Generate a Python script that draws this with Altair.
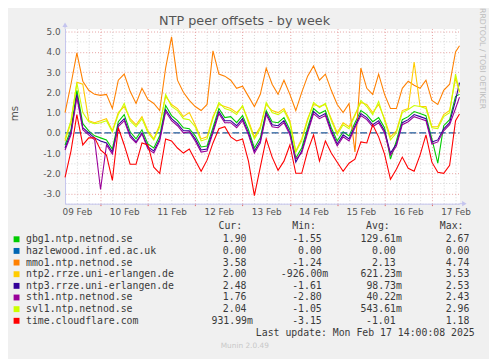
import json
import altair as alt
import pandas as pd

# ---------------- data ----------------
# hours after 09 Feb 06:00 (graph ends at last update, 17 Feb 14:00)
hours = list(range(0, 199, 3)) + [200]
day_labels = ["09 Feb", "10 Feb", "11 Feb", "12 Feb", "13 Feb", "14 Feb", "15 Feb", "16 Feb", "17 Feb"]
y_ticks = [-3.5, -3.0, -2.5, -2.0, -1.5, -1.0, -0.5, 0.0, 0.5, 1.0, 1.5, 2.0, 2.5, 3.0, 3.5, 4.0, 4.5, 5.0]
x_ticks = list(range(0, 199, 6))

series_names = ["gbg1.ntp.netnod.se", "hazlewood.inf.ed.ac.uk", "mmo1.ntp.netnod.se",
                "ntp2.rrze.uni-erlangen.de", "ntp3.rrze.uni-erlangen.de", "sth1.ntp.netnod.se",
                "svl1.ntp.netnod.se", "time.cloudflare.com"]
series_colors = ["#00CC00", "#0066B3", "#FF8000", "#FFCC00", "#330099", "#990099", "#CCFF00", "#FF0000"]

cur_vals = ["1.90", "0.00", "3.58", "2.00", "2.48", "1.76", "2.04", "931.99m"]
min_vals = ["-1.55", "0.00", "-1.24", "-926.00m", "-1.61", "-2.80", "-1.05", "-3.15"]
avg_vals = ["129.61m", "0.00", "2.13", "621.23m", "98.73m", "40.22m", "543.61m", "-1.01"]
max_vals = ["2.67", "0.00", "4.74", "3.53", "2.53", "2.43", "2.96", "1.18"]

gbg1 = [-0.6, 0.15, 2.1, 0.45, 0.1, -0.15, -0.25, -0.35, -0.8, 0.55,
        0.9, 0.05, -0.3, 0.15, -0.55, -0.75, -0.15, 1.35, 0.85, 0.6,
        0.25, 0.2, -0.15, -0.7, -0.65, 0.25, 1.2, 0.75, 0.8, 0.5,
        0.85, 0.15, -0.75, -0.25, 1.1, 0.55, 0.5, 0.75, 0.15, -1.25,
        -0.75, 0.25, 1.2, 0.95, 1.1, 0.25, -0.4, 0.05, -0.15, 0.5,
        1.1, 0.9, 0.55, 0.75, 0.25, -1.3, -0.4, 0.65, 0.8, 1.05,
        0.95, 0.85, -0.3, -1.5, 0.35, 0.65, 1.8, 1.9]
hazlewood = [0.0] * 68
mmo1 = [1.0, 2.4, 3.95, 2.55, 2.1, 1.9, 1.85, 1.9, 1.2, 2.6,
        2.9, 2.05, 1.45, 2.2, 1.65, 1.45, 1.1, 3.2, 4.74, 2.6,
        2.0, 1.6, 1.3, 1.1, 1.4, 4.05, 2.9, 2.8, 2.6, 2.2,
        2.3, 1.8, 1.3, 1.9, 3.2, 2.4, 1.9, 2.6, 1.9, 1.1,
        2.0, 2.8, 3.3, 2.6, 2.9, 2.1, 1.4, 1.0, 1.45, -0.95,
        3.2, 2.2, 1.9, 2.9, 1.9, 1.2, 1.2, 2.2, 2.55, 2.35,
        2.2, 2.6, 1.6, 1.4, 2.1, 2.4, 4.0, 4.3]
ntp2 = [-0.4, 0.5, 2.5, 2.4, 0.6, 0.5, 0.6, 0.7, 0.1, 1.0,
        1.3, 0.7, 0.4, 0.8, 0.1, -0.3, 0.4, 1.8, 1.4, 1.2,
        0.8, 1.0, 0.4, -0.3, -0.2, 0.8, 1.4, 1.3, 1.2, 1.0,
        1.3, 0.6, -0.2, 0.3, 1.4, 1.1, 1.0, 1.2, 0.6, -0.9,
        -0.3, 0.7, 1.4, 1.3, 1.4, 0.7, 0.0, 0.5, 0.3, 0.9,
        1.5, 1.4, 1.0, 1.4, 0.7, -0.2, 0.1, 1.1, 1.2, 3.5,
        1.3, 1.3, 0.3, 0.3, 0.9, 1.1, 2.7, 2.0]
ntp3 = [-0.75, 0.0, 1.9, 0.25, 0.0, -0.25, -0.4, -0.5, -0.95, 0.4,
        0.7, -0.1, -0.45, 0.0, -0.7, -0.9, -0.3, 1.15, 0.7, 0.45,
        0.1, 0.1, -0.3, -0.85, -0.8, 0.1, 1.05, 0.6, 0.6, 0.35,
        0.7, 0.0, -0.9, -0.4, 1.0, 0.4, 0.35, 0.6, 0.0, -1.45,
        -0.9, 0.1, 1.05, 0.8, 0.95, 0.1, -0.55, -0.1, -0.3, 0.35,
        0.95, 0.75, 0.4, 0.6, 0.1, -1.0, -0.55, 0.5, 0.65, 0.9,
        0.8, 0.7, -0.45, -0.35, 0.2, 0.5, 1.6, 2.48]
sth1 = [-0.85, -0.1, 1.75, 0.15, -0.1, -0.35, -2.8, -0.6, -1.05, 0.3,
        0.6, -0.2, -0.5, -0.05, -0.8, -1.0, -0.4, 1.05, 0.6, 0.35,
        0.0, 0.05, -0.4, -0.95, -0.9, 0.0, 0.95, 0.5, 0.5, 0.25,
        0.6, -0.1, -1.0, -0.5, 0.9, 0.3, 0.25, 0.5, -0.1, -1.3,
        -1.0, 0.0, 0.95, 0.7, 0.85, 0.0, -0.65, -0.2, -0.4, 0.25,
        0.85, 0.65, 0.3, 0.5, 0.0, -1.1, -0.65, 0.4, 0.55, 0.8,
        0.7, 0.6, -0.55, -0.45, 0.1, 0.4, 1.2, 1.76]
svl1 = [-0.3, 0.6, 2.45, 1.0, 0.55, 0.45, 0.5, 0.6, 0.05, 0.9,
        1.45, 0.6, 0.3, 0.7, 0.0, -0.35, 0.3, 1.9, 1.3, 1.1,
        0.7, 0.65, 0.3, -0.4, -0.3, 0.7, 1.5, 1.2, 1.1, 0.9,
        1.35, 0.5, -0.3, 0.2, 1.5, 1.0, 0.9, 1.1, 0.5, -0.95,
        -0.4, 0.6, 1.5, 1.25, 1.45, 0.6, -0.1, 0.4, 0.2, 0.85,
        1.6, 1.3, 0.9, 1.55, 0.6, -0.35, 0.0, 1.0, 1.15, 1.35,
        1.3, 1.2, 0.25, 0.2, 0.8, 1.0, 2.9, 2.04]
cloudflare = [-2.2, -0.9, 0.9, -0.6, -0.25, -0.25, -0.85, -1.1, -2.35, 0.25,
              -0.6, -1.55, -1.55, -0.5, -0.6, -1.7, -2.0, -0.3, -0.4, -0.75,
              -1.0, -0.8, -1.35, -1.9, -1.35, -0.5, 0.2, 0.3, -0.2, -0.4,
              -0.3, -1.4, -3.1, -1.7, -0.3, -1.2, -1.85, -1.4, -0.6, -2.0,
              -2.0, -0.9, -0.1, -1.4, -0.4, -1.0, -1.45, -1.9, -1.5, -1.3,
              -0.45, -0.5, 0.4, -0.2, -1.05, -2.3, -1.8, -1.2, -1.75, -1.9,
              -1.1, -0.1, -1.45, -1.95, -2.0, -1.6, 0.6, 0.93]

series_values = [gbg1, hazlewood, mmo1, ntp2, ntp3, sth1, svl1, cloudflare]

title_text = "NTP peer offsets - by week"
y_title = "ms"
side_text = "RRDTOOL / TOBI OETIKER"
last_update = "Last update: Mon Feb 17 14:00:08 2025"
munin_text = "Munin 2.0.49"
headers = ["Cur:", "Min:", "Avg:", "Max:"]

# ---------------- tables ----------------
rows = []
for name, vals in zip(series_names, series_values):
    for h, v in zip(hours, vals):
        rows.append({"series": name, "h": h, "v": v})
df = pd.DataFrame(rows)

leg_rows = pd.DataFrame({"row": list(range(len(series_names))), "name": series_names,
                         "color": series_colors})
leg_vals = []
for i in range(len(series_names)):
    for j, col in enumerate([cur_vals, min_vals, avg_vals, max_vals]):
        leg_vals.append({"row": i, "col": j, "s": col[i]})
leg_vals = pd.DataFrame(leg_vals)
hdr = pd.DataFrame({"col": list(range(4)), "s": headers})

# ---------------- styling ----------------
W, H = 401, 178
MAJOR = "#e6a0a0"
MINOR = "#d4d4d4"
AXIS = "#c4c4ee"
FONT = "DejaVu Sans"
MONO = "DejaVu Sans Mono"
TXT = "#555555"
LEG = "#3a3a3a"

xscale = alt.Scale(domain=[0, 200], nice=False, zero=False)
yscale = alt.Scale(domain=[-3.5, 5.15], nice=False, zero=False)

mid = "datum.value % 24 == 18"
x_axis = alt.Axis(
    values=x_ticks, title=None, grid=True, gridDash=[1, 2], gridWidth=1,
    gridColor=alt.condition(mid, alt.value(MAJOR), alt.value(MINOR)),
    tickColor=alt.condition(mid, alt.value("#e06666"), alt.value("transparent")),
    tickSize=2, domainColor=AXIS, domainWidth=1,
    labelExpr="datum.value % 24 == 6 ? " + json.dumps(day_labels) + "[floor(datum.value / 24)] : ''",
    labelFont=FONT, labelFontSize=9, labelColor=TXT, labelPadding=2,
    labelFlush=False, labelOverlap=False, labelBound=False)
y_axis = alt.Axis(
    values=y_ticks, title=None, grid=True, gridDash=[1, 2], gridWidth=1,
    gridColor=alt.condition("datum.value % 1 == 0", alt.value(MAJOR), alt.value(MINOR)),
    ticks=False, domainColor=AXIS, domainWidth=1,
    labelExpr="datum.value % 1 == 0 ? (datum.value < 0 ? '-' : '') + format(abs(datum.value), '.1f') : ''",
    labelFont=FONT, labelFontSize=9, labelColor=TXT, labelPadding=5,
    labelFlush=False, labelOverlap=False, labelBound=False)

layers = []
for name, color in zip(series_names, series_colors):
    kw = dict(color=color, strokeWidth=1.1, interpolate="linear")
    if name.startswith("hazlewood"):
        kw["strokeDash"] = [7, 3]
        kw["color"] = "#1d5a9a"
        kw["strokeWidth"] = 1.3
    layers.append(
        alt.Chart(df).transform_filter(alt.datum.series == name).mark_line(**kw).encode(
            x=alt.X("h:Q", scale=xscale, axis=x_axis),
            y=alt.Y("v:Q", scale=yscale, axis=y_axis)))

one = pd.DataFrame({"k": [0]})

# axis arrows
layers.append(alt.Chart(one).mark_rule(color=AXIS, strokeWidth=1).encode(
    x=alt.value(0), y=alt.value(0), y2=alt.value(-4)))
layers.append(alt.Chart(one).mark_rule(color=AXIS, strokeWidth=1).encode(
    x=alt.value(W), x2=alt.value(W + 5), y=alt.value(H)))
layers.append(alt.Chart(one).mark_point(shape="triangle-up", filled=True, color=AXIS, size=28, opacity=1).encode(
    x=alt.value(0), y=alt.value(-4)))
layers.append(alt.Chart(one).mark_point(shape="triangle-right", filled=True, color=AXIS, size=28, opacity=1).encode(
    x=alt.value(W + 5), y=alt.value(H)))

def label(text, x, y, **kw):
    return alt.Chart(pd.DataFrame({"t": [text]})).mark_text(**kw).encode(
        text="t:N", x=alt.value(x), y=alt.value(y))

layers.append(label(title_text, 182.5, -3.5, font=FONT, fontSize=13, color=TXT, align="center", baseline="alphabetic"))
layers.append(label(y_title, -50.5, 86.5, font=FONT, fontSize=10.5, color=TXT, align="center", baseline="middle", angle=270))
layers.append(label(side_text, 423.5, -21, font=FONT, fontSize=8, color="#bdbdbd", align="left", baseline="middle", angle=90))
layers.append(label(last_update, 416.5, 309.7, font=MONO, fontSize=10, color=LEG, align="right", baseline="middle"))
layers.append(label(munin_text, 182.7, 323, font=FONT, fontSize=7.5, color="#c8c8c8", align="center", baseline="middle"))

# legend: headers
layers.append(alt.Chart(hdr).transform_calculate(
    px="[156, 231, 306, 381][datum.col]").mark_text(
    font=MONO, fontSize=10, color=LEG, align="left", baseline="middle").encode(
    text="s:N", x=alt.X("px:Q", scale=None, axis=None), y=alt.value(201)))
# legend: swatches
layers.append(alt.Chart(leg_rows).transform_calculate(
    py="214.2 + 11.84 * datum.row").mark_square(size=36, opacity=1).encode(
    x=alt.value(-49.3), y=alt.Y("py:Q", scale=None, axis=None),
    color=alt.Color("color:N", scale=None, legend=None)))
# legend: names
layers.append(alt.Chart(leg_rows).transform_calculate(
    py="214.2 + 11.84 * datum.row").mark_text(
    font=MONO, fontSize=10, color=LEG, align="left", baseline="middle").encode(
    text="name:N", x=alt.value(-39.7), y=alt.Y("py:Q", scale=None, axis=None)))
# legend: values
layers.append(alt.Chart(leg_vals).transform_calculate(
    py="214.2 + 11.84 * datum.row",
    px="[184.5, 261, 336, 411][datum.col] + (indexof(datum.s, 'm') >= 0 ? 6.5 : 0)").mark_text(
    font=MONO, fontSize=10, color=LEG, align="right", baseline="middle").encode(
    text="s:N", x=alt.X("px:Q", scale=None, axis=None), y=alt.Y("py:Q", scale=None, axis=None)))

chart = alt.layer(*layers).properties(
    width=W, height=H,
    padding={"left": 58, "top": 18, "right": 30, "bottom": 155},
    autosize=alt.AutoSizeParams(type="none"),
    background="#F0F0F0",
).configure_view(fill="white", stroke="transparent")

chart.save("out.html", embed_options={"renderer": "svg", "actions": False})
